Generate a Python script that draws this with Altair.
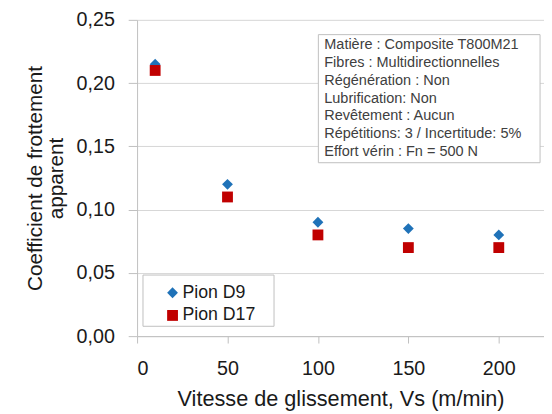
import altair as alt
import pandas as pd

vitesse = [10, 50, 100, 150, 200]
d9 = [0.215, 0.12, 0.09, 0.085, 0.08]
d17 = [0.21, 0.11, 0.08, 0.07, 0.07]
series = ["Pion D9", "Pion D17"]
info_lines = [
    "Matière : Composite T800M21",
    "Fibres : Multidirectionnelles",
    "Régénération : Non",
    "Lubrification: Non",
    "Revêtement  : Aucun",
    "Répétitions: 3  / Incertitude: 5%",
    "Effort vérin : Fn = 500 N",
]

rows = []
for v, a, b in zip(vitesse, d9, d17):
    rows.append({"v": v, "c": a, "s": series[0]})
    rows.append({"v": v, "c": b, "s": series[1]})
df = pd.DataFrame(rows)

FONT = "Liberation Sans"
TXT = "#1a1a1a"

x = alt.X("v:Q", scale=alt.Scale(domain=[0, 225], nice=False),
          axis=alt.Axis(values=[0, 50, 100, 150, 200], title="Vitesse de glissement, Vs (m/min)",
                        grid=False, tickSize=7, labelFontSize=20, titleFontSize=22,
                        labelPadding=16, titlePadding=10, domainColor="#bfbfbf", tickColor="#bfbfbf",
                        labelColor=TXT, titleColor=TXT, labelFont=FONT, titleFont=FONT,
                        titleFontWeight="normal"))
y = alt.Y("c:Q", scale=alt.Scale(domain=[0, 0.25], nice=False),
          axis=alt.Axis(values=[0, 0.05, 0.1, 0.15, 0.2, 0.25],
                        labelExpr="replace(format(datum.value, '.2f'), '.', ',')",
                        title=["Coefficient de frottement", "apparent"],
                        gridColor="#d6d6d6", tickSize=9, labelFontSize=20, titleFontSize=21,
                        titleLineHeight=21,
                        labelPadding=14, titlePadding=10, domainColor="#bfbfbf", tickColor="#bfbfbf",
                        labelColor=TXT, titleColor=TXT, labelFont=FONT, titleFont=FONT,
                        titleFontWeight="normal"))

leg = alt.Legend(title=None, orient="none", legendX=27, legendY=268,
                 padding=0, labelFontSize=18, labelFont=FONT, labelColor=TXT,
                 symbolSize=121, rowPadding=5, labelOffset=1)

points = alt.Chart(df).mark_point(filled=True, size=121, opacity=1).encode(
    x=x, y=y,
    shape=alt.Shape("s:N", scale=alt.Scale(domain=series, range=["diamond", "square"]), legend=leg),
    color=alt.Color("s:N", scale=alt.Scale(domain=series, range=["#1f72b8", "#c00000"]), legend=leg),
)

box = alt.Chart(pd.DataFrame({"a": [0]})).mark_rect(fill="white", stroke="#bfbfbf").encode(
    x=alt.value(184), x2=alt.value(409), y=alt.value(15), y2=alt.value(145))

legbox = alt.Chart(pd.DataFrame({"a": [0]})).mark_rect(fill="white", stroke="#bfbfbf").encode(
    x=alt.value(6), x2=alt.value(139), y=alt.value(259), y2=alt.value(311))

info = alt.Chart(pd.DataFrame({"t": ["\n".join(info_lines)]})).mark_text(
    align="left", baseline="top", fontSize=14.7, font=FONT, color="#404040",
    lineBreak="\n", lineHeight=18).encode(
    x=alt.value(190), y=alt.value(18), text="t:N")

chart = alt.layer(box, info, legbox, points).properties(
    width=413, height=321,
    autosize=alt.AutoSizeParams(type="none"),
    padding={"left": 131, "top": 9, "right": 0, "bottom": 76},
).configure_view(stroke=None)

chart.save("out.html", embed_options={"renderer": "svg", "actions": False})
